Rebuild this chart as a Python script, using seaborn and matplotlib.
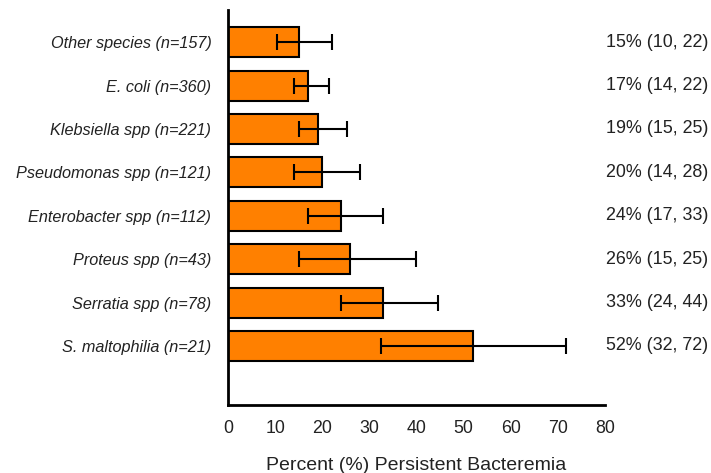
import matplotlib
matplotlib.use("Agg")
import matplotlib.pyplot as plt
import seaborn as sns
import pandas as pd
import numpy as np

categories = ["Other species (n=157)", "E. coli (n=360)", "Klebsiella spp (n=221)",
              "Pseudomonas spp (n=121)", "Enterobacter spp (n=112)", "Proteus spp (n=43)",
              "Serratia spp (n=78)", "S. maltophilia (n=21)"]
percent = [15, 17, 19, 20, 24, 26, 33, 52]
ci_low = [10.3, 14, 15, 14, 17, 15, 24, 32.5]
ci_high = [22, 21.5, 25.3, 28, 33, 40, 44.5, 71.8]
labels_right = ["15% (10, 22)", "17% (14, 22)", "19% (15, 25)", "20% (14, 28)",
                "24% (17, 33)", "26% (15, 25)", "33% (24, 44)", "52% (32, 72)"]

sns.set_style("white")
plt.rcParams['font.family'] = ['Liberation Sans', 'DejaVu Sans']

df = pd.DataFrame({"cat": categories, "pct": percent})

fig = plt.figure(figsize=(7.11, 4.73), dpi=100)
ax = fig.add_axes([0.3207, 0.1438, 0.530, 0.835])

sns.barplot(data=df, x="pct", y="cat", orient="h", color="#FF8000", saturation=1,
            edgecolor="black", linewidth=1.5, width=0.69, ax=ax)

pos = np.arange(len(categories))
xerr = [np.array(percent) - np.array(ci_low), np.array(ci_high) - np.array(percent)]
ax.errorbar(percent, pos, xerr=xerr, fmt="none", ecolor="black", elinewidth=1.5,
            capsize=5.5, capthick=1.5, zorder=5)

for p, t in zip(pos, labels_right):
    ax.text(1.003, p, t, transform=ax.get_yaxis_transform(), ha="left", va="center",
            fontsize=12.9, color="#222222")

ax.set_xlim(0, 80)
ax.set_ylim(8.36, -0.74)
ax.set_xticks(range(0, 81, 10))
ax.set_ylabel("")
ax.set_xlabel("Percent (%) Persistent Bacteremia", fontsize=14, labelpad=14, color="#222222")
ax.tick_params(axis="x", labelsize=12.8, direction="out", length=5, width=2, pad=6, colors="#222222")
ax.tick_params(axis="y", labelsize=11.7, direction="out", length=5, width=2, pad=7, colors="#222222")
for lbl in ax.get_yticklabels():
    lbl.set_fontstyle("italic")
for s in ["top", "right"]:
    ax.spines[s].set_visible(False)
for s in ["left", "bottom"]:
    ax.spines[s].set_linewidth(2)
    ax.spines[s].set_color("black")
ax.tick_params(axis="both", color="black")

fig.savefig("out.png", dpi=100)
